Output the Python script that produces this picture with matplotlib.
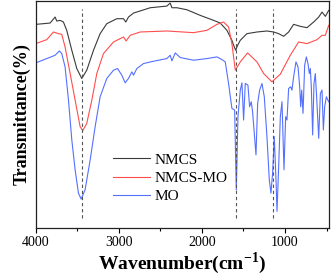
import matplotlib.pyplot as plt
import numpy as np

# FTIR spectra, transmittance in arbitrary units
nmcs_wn = [4000, 3908, 3827, 3767, 3747, 3707, 3667, 3627, 3566, 3506, 3446, 3386,
           3305, 3225, 3145, 3024, 2944, 2916, 2884, 2823, 2622, 2422, 2382, 2361,
           2301, 2181, 2020, 1859, 1779, 1699, 1639, 1618, 1594, 1570, 1538, 1458,
           1337, 1217, 1137, 1076, 1016, 956, 896, 815, 735, 655, 594, 554, 514, 474]
nmcs_t = [613, 615, 617, 635, 623, 625, 620, 595, 535, 480, 450, 475,
          535, 585, 615, 630, 630, 620, 635, 647, 663, 668, 677, 663,
          663, 657, 640, 625, 617, 595, 565, 550, 535, 550, 565, 585,
          590, 593, 590, 585, 577, 590, 613, 607, 603, 620, 635, 650, 637, 655]

nmcs_mo_wn = [4000, 3867, 3787, 3727, 3687, 3647, 3586, 3526, 3466, 3434, 3386, 3325,
              3265, 3185, 3064, 2944, 2912, 2863, 2743, 2422, 2100, 1940, 1819, 1739,
              1679, 1639, 1598, 1538, 1450, 1337, 1257, 1157, 1056, 936, 836, 735,
              614, 554, 514, 474]
nmcs_mo_t = [555, 567, 590, 585, 583, 545, 465, 385, 305, 293, 315, 385,
             465, 525, 560, 575, 563, 580, 590, 593, 588, 595, 613, 620,
             605, 555, 475, 500, 527, 500, 465, 440, 463, 520, 560, 555,
             567, 580, 580, 610]

mo_wn = [4000, 3867, 3767, 3715, 3687, 3647, 3606, 3566, 3526, 3486, 3454, 3406,
         3345, 3285, 3225, 3145, 3064, 3016, 2964, 2924, 2884, 2843, 2823, 2783,
         2703, 2582, 2422, 2382, 2361, 2321, 2261, 2100, 1940, 1819, 1759,
         1719, 1679, 1639, 1606, 1586, 1566, 1538, 1518, 1498, 1478, 1446, 1426,
         1406, 1390, 1349, 1329, 1305, 1277, 1249, 1217, 1189, 1169, 1149, 1129,
         1108, 1096, 1076, 1056, 1036, 1012, 992, 976, 956, 932, 916, 896,
         868, 843, 823, 811, 799, 783, 763, 743, 723, 707, 695, 683,
         667, 651, 635, 619, 594, 574, 554, 538, 522, 502, 474]
mo_t = [497, 510, 520, 533, 525, 485, 385, 265, 175, 105, 87, 115,
        205, 305, 395, 450, 475, 480, 460, 437, 450, 470, 460, 480,
        495, 502, 510, 520, 503, 527, 513, 505, 510, 515, 507,
        500, 435, 360, 355, 115, 335, 415, 437, 325, 435, 430, 365,
        380, 350, 220, 375, 415, 435, 395, 275, 145, 105, 165, 275,
        145, 50, 185, 335, 380, 175, 335, 325, 420, 425, 415, 455,
        500, 485, 425, 365, 415, 345, 490, 515, 495, 465, 480, 425,
        280, 435, 465, 395, 270, 405, 415, 295, 365, 395, 380]

marks = [3446, 1588, 1150]

plt.rcParams['font.family'] = ['Liberation Serif', 'DejaVu Serif']
plt.rcParams['mathtext.fontset'] = 'custom'
plt.rcParams['mathtext.rm'] = 'Liberation Serif'
plt.rcParams['mathtext.bf'] = 'Liberation Serif:bold'

fig = plt.figure(figsize=(3.31, 2.75), dpi=100)
ax = fig.add_axes([0.108, 0.171, 0.886, 0.825])

ax.plot(nmcs_wn, nmcs_t, color='#3a3a3a', lw=0.8, label='NMCS')
ax.plot(nmcs_mo_wn, nmcs_mo_t, color='#ff4d4d', lw=0.8, label='NMCS-MO')
ax.plot(mo_wn, mo_t, color='#5570ff', lw=0.8, label='MO')

ax.vlines(marks, 30, 660, colors='#555555', linestyles=(0, (3, 2.5)), lw=0.8)

ax.set_xlim(4000, 470)
ax.set_ylim(0, 683)
ax.set_xticks([4000, 3000, 2000, 1000])
ax.set_xticks(np.arange(3500, 400, -1000), minor=True)
ax.set_yticks([])
ax.tick_params(axis='x', which='major', direction='out', length=3.5, width=0.8, labelsize=10, pad=2)
ax.tick_params(axis='x', which='minor', direction='out', length=2, width=0.8)
for s in ax.spines.values():
    s.set_linewidth(0.9)
    s.set_color('#222222')

ax.set_xlabel('Wavenumber(cm$^{\\mathbf{-1}}$)', fontsize=14, fontweight='bold', labelpad=1)
ax.set_ylabel('Transmittance(%)', fontsize=13, fontweight='bold', labelpad=4)

ax.legend(loc='upper left', bbox_to_anchor=(0.265, 0.33), frameon=False, fontsize=11,
          handlelength=2.4, handletextpad=0.3, labelspacing=0.3, borderpad=0, borderaxespad=0)

plt.savefig('out.png', dpi=100)
